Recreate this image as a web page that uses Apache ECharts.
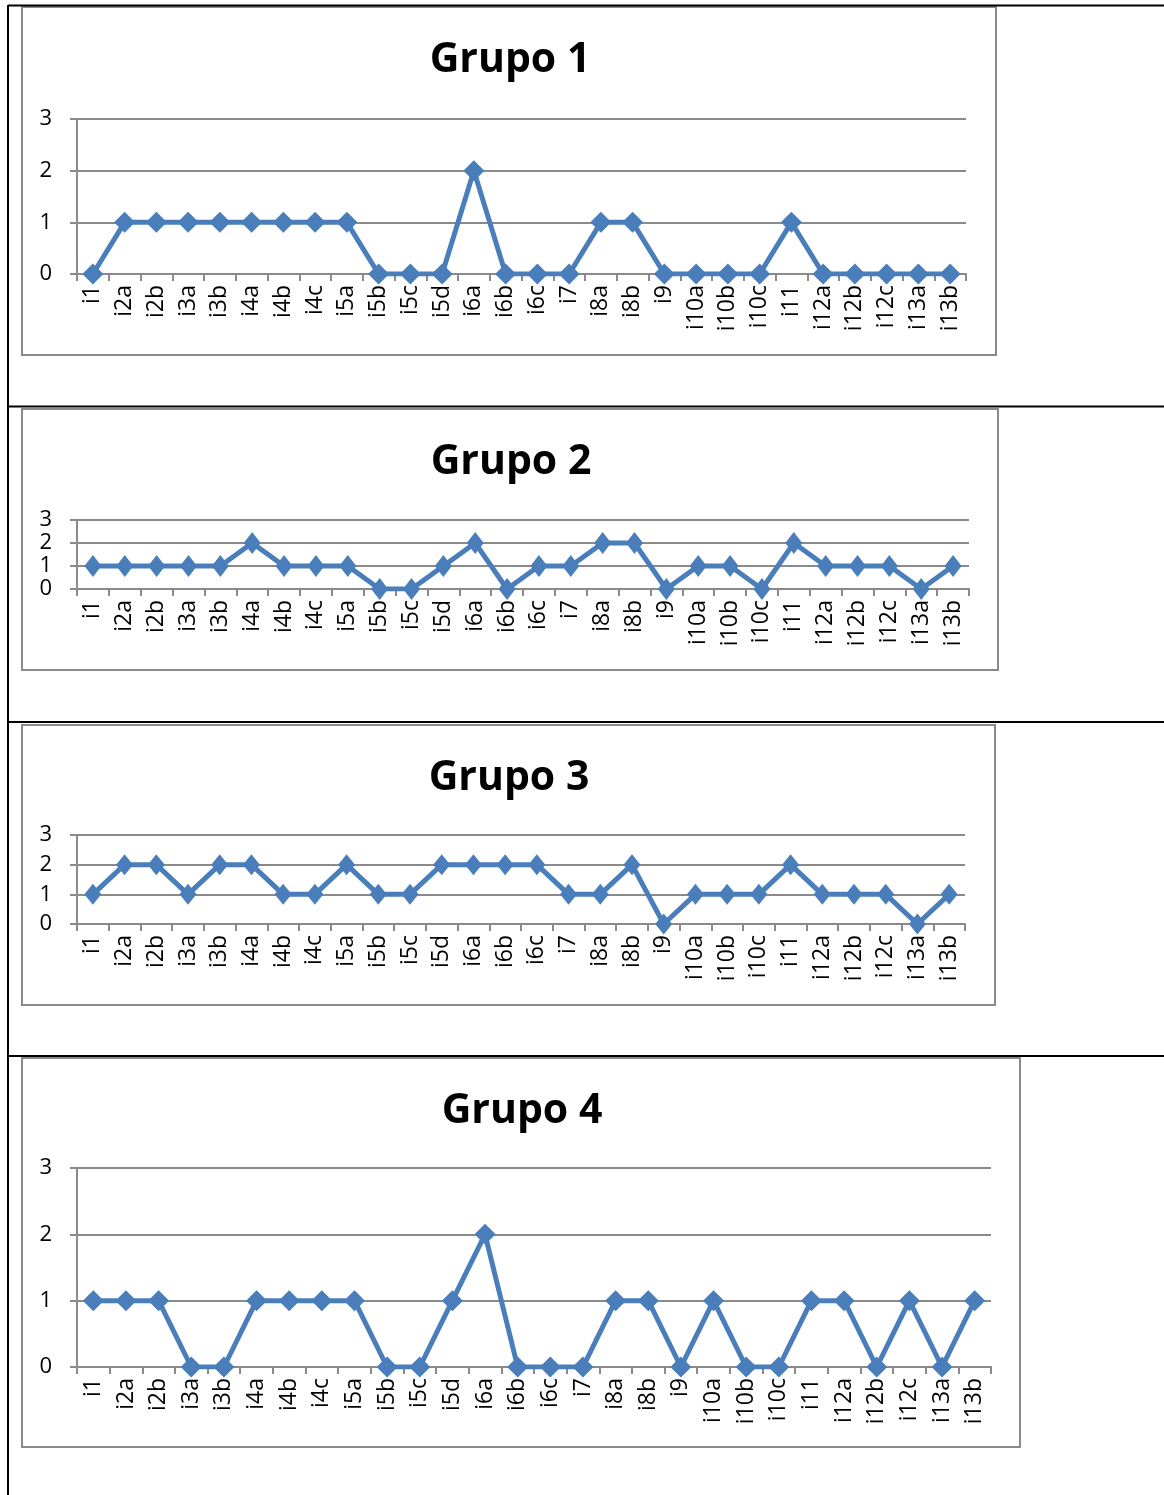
<!DOCTYPE html>
<html>
<head>
<meta charset="utf-8">
<script src="https://cdn.jsdelivr.net/npm/echarts@6/dist/echarts.min.js"></script>
<style>
html,body{margin:0;padding:0;background:#fff;}
#c{width:1164px;height:1495px;}
</style>
</head>
<body>
<div id="c"></div>
<script>
var categories = ['i1','i2a','i2b','i3a','i3b','i4a','i4b','i4c','i5a','i5b','i5c','i5d','i6a','i6b','i6c','i7','i8a','i8b','i9','i10a','i10b','i10c','i11','i12a','i12b','i12c','i13a','i13b'];
var titles = ['Grupo 1','Grupo 2','Grupo 3','Grupo 4'];
var grupo1 = [0,1,1,1,1,1,1,1,1,0,0,0,2,0,0,0,1,1,0,0,0,0,1,0,0,0,0,0];
var grupo2 = [1,1,1,1,1,2,1,1,1,0,0,1,2,0,1,1,2,2,0,1,1,0,2,1,1,1,0,1];
var grupo3 = [1,2,2,1,2,2,1,1,2,1,1,2,2,2,2,1,1,2,0,1,1,1,2,1,1,1,0,1];
var grupo4 = [1,1,1,0,0,1,1,1,1,0,0,1,2,0,0,0,1,1,0,1,0,0,1,1,0,1,0,1];
var yMin = 0, yMax = 3, yStep = 1;

var allData = [grupo1, grupo2, grupo3, grupo4];

// layout
var grids = [
  {left:77, right:198, top:119, height:155},
  {left:77, right:195, top:520, height:69},
  {left:77, right:199, top:835, height:89},
  {left:77, right:173, top:1168, height:199}
];
var boxes = [
  {x:22, y:7, w:974, h:348},
  {x:22, y:409, w:976, h:261},
  {x:22, y:725, w:973, h:280},
  {x:22, y:1058, w:998, h:389}
];
var titleCenters = [[505,58],[506,460],[504,776],[517,1109]];
var symSizes = [[21,21],[17,22],[17,21],[21,21]];

var FONT = '"Open Sans", "Noto Sans", sans-serif';
var GRAY = '#8a8a8a';
var BLUE = '#4a7ebb';

var chart = echarts.init(document.getElementById('c'), null, {renderer:'canvas'});

var graphic = [];
// table borders
graphic.push({type:'line', shape:{x1:8,y1:5.5,x2:1164,y2:5.5}, style:{stroke:'#000', lineWidth:2}, z:10});
graphic.push({type:'line', shape:{x1:8,y1:5,x2:8,y2:1495}, style:{stroke:'#000', lineWidth:2}, z:10});
[406.5, 722, 1056].forEach(function(y){
  graphic.push({type:'line', shape:{x1:8,y1:y,x2:1164,y2:y}, style:{stroke:'#000', lineWidth:2}, z:10});
});
boxes.forEach(function(b){
  graphic.push({type:'rect', shape:{x:b.x,y:b.y,width:b.w,height:b.h}, style:{fill:'none', stroke:GRAY, lineWidth:2}, z:5});
});

var option = {
  backgroundColor:'#fff',
  animation:false,
  title: titles.map(function(t,i){
    return {text:t, left:titleCenters[i][0], top:titleCenters[i][1]-23, textAlign:'center',
      textStyle:{fontFamily:FONT, fontWeight:'bold', fontSize:41, color:'#000'}};
  }),
  grid: grids.map(function(g){ return Object.assign({containLabel:false}, g); }),
  xAxis: grids.map(function(g,i){
    return {type:'category', gridIndex:i, data:categories, boundaryGap:true,
      axisLine:{show:true, lineStyle:{color:GRAY, width:2}},
      axisTick:{show:true, length:7, interval:0, alignWithLabel:false, lineStyle:{color:GRAY, width:2}},
      axisLabel:{interval:0, rotate:90, margin:11, fontFamily:FONT, fontSize:23, color:'#000'},
      splitLine:{show:false}};
  }),
  yAxis: grids.map(function(g,i){
    return {type:'value', gridIndex:i, min:yMin, max:yMax, interval:yStep,
      axisLine:{show:true, lineStyle:{color:GRAY, width:2}},
      axisTick:{show:true, length:7, lineStyle:{color:GRAY, width:2}},
      axisLabel:{margin:25, fontFamily:FONT, fontSize:22, color:'#000'},
      splitLine:{show:true, lineStyle:{color:GRAY, width:2}}};
  }),
  series: allData.map(function(d,i){
    return {type:'line', xAxisIndex:i, yAxisIndex:i, data:d,
      symbol:'diamond', symbolSize:symSizes[i], showAllSymbol:true,
      itemStyle:{color:BLUE}, lineStyle:{color:BLUE, width:5}};
  }),
  graphic: graphic
};
chart.setOption(option);
</script>
</body>
</html>
